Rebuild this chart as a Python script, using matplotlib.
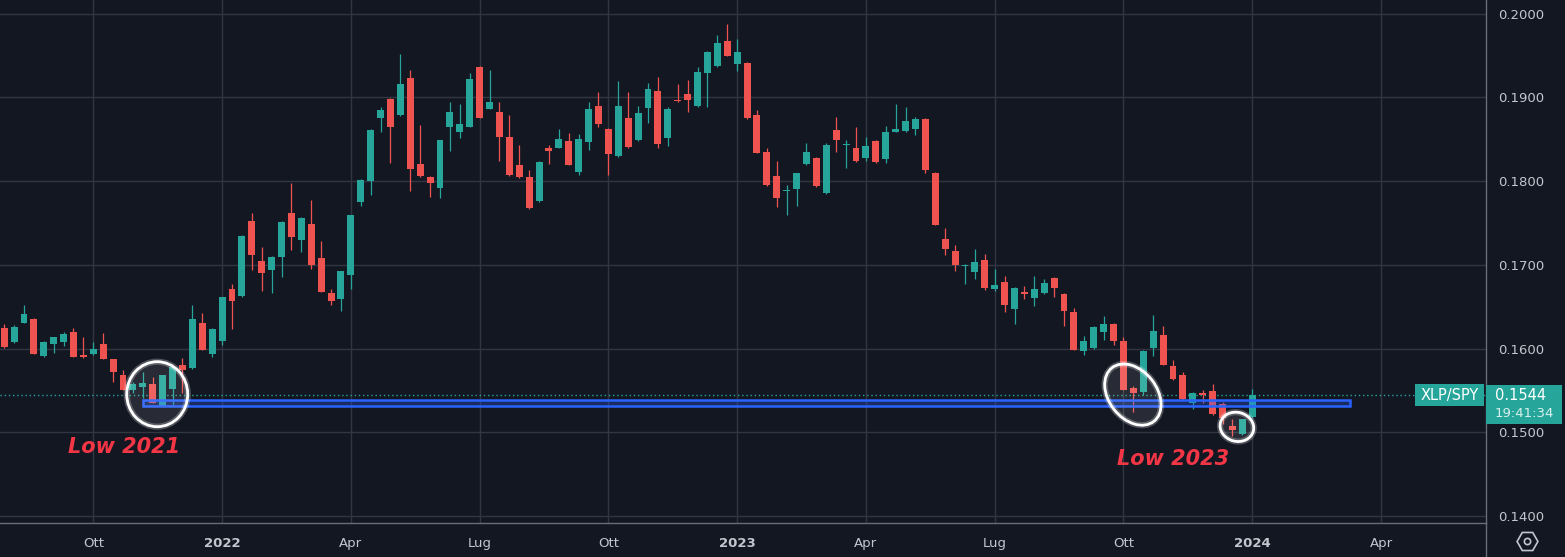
import matplotlib
matplotlib.use("Agg")
import matplotlib.pyplot as plt
from matplotlib.patches import Rectangle, Ellipse
from matplotlib.lines import Line2D
from matplotlib.transforms import IdentityTransform, blended_transform_factory
import numpy as np
import pandas as pd

# XLP/SPY settimanale
opens = [0.1624, 0.1608, 0.1631, 0.1635, 0.1591, 0.1606, 0.1608, 0.1620, 0.1592, 0.1593,
         0.1606, 0.1588, 0.1568, 0.1551, 0.1554, 0.1558, 0.1531, 0.1552, 0.1580, 0.1577,
         0.1631, 0.1594, 0.1609, 0.1671, 0.1663, 0.1752, 0.1705, 0.1694, 0.1709, 0.1762,
         0.1730, 0.1749, 0.1708, 0.1666, 0.1659, 0.1688, 0.1775, 0.1800, 0.1875, 0.1898,
         0.1879, 0.1923, 0.1820, 0.1805, 0.1792, 0.1865, 0.1859, 0.1865, 0.1936, 0.1886,
         0.1883, 0.1853, 0.1819, 0.1805, 0.1776, 0.1840, 0.1840, 0.1848, 0.1811, 0.1847,
         0.1890, 0.1862, 0.1830, 0.1875, 0.1849, 0.1887, 0.1908, 0.1851, 0.1897, 0.1904,
         0.1890, 0.1929, 0.1937, 0.1967, 0.1940, 0.1941, 0.1879, 0.1835, 0.1806, 0.1788,
         0.1790, 0.1820, 0.1828, 0.1786, 0.1861, 0.1843, 0.1840, 0.1828, 0.1848, 0.1826,
         0.1859, 0.1860, 0.1862, 0.1874, 0.1810, 0.1731, 0.1717, 0.1699, 0.1691, 0.1706,
         0.1671, 0.1680, 0.1647, 0.1668, 0.1660, 0.1666, 0.1684, 0.1665, 0.1644, 0.1597,
         0.1601, 0.1620, 0.1629, 0.1609, 0.1553, 0.1548, 0.1601, 0.1616, 0.1579, 0.1568,
         0.1535, 0.1547, 0.1549, 0.1534, 0.1508, 0.1498, 0.1518]
highs = [0.1629, 0.1628, 0.1652, 0.1636, 0.1609, 0.1614, 0.1620, 0.1624, 0.1614, 0.1608,
         0.1619, 0.1588, 0.1574, 0.1560, 0.1572, 0.1566, 0.1569, 0.1578, 0.1589, 0.1652,
         0.1643, 0.1624, 0.1662, 0.1677, 0.1735, 0.1762, 0.1721, 0.1710, 0.1752, 0.1798,
         0.1757, 0.1777, 0.1728, 0.1671, 0.1693, 0.1760, 0.1802, 0.1862, 0.1888, 0.1899,
         0.1952, 0.1933, 0.1867, 0.1806, 0.1849, 0.1894, 0.1892, 0.1929, 0.1937, 0.1933,
         0.1894, 0.1879, 0.1843, 0.1813, 0.1824, 0.1843, 0.1862, 0.1857, 0.1856, 0.1894,
         0.1906, 0.1863, 0.1920, 0.1906, 0.1890, 0.1917, 0.1924, 0.1888, 0.1916, 0.1921,
         0.1936, 0.1955, 0.1974, 0.1988, 0.1970, 0.1942, 0.1885, 0.1840, 0.1824, 0.1795,
         0.1810, 0.1846, 0.1829, 0.1845, 0.1877, 0.1849, 0.1865, 0.1853, 0.1849, 0.1866,
         0.1892, 0.1888, 0.1877, 0.1875, 0.1811, 0.1744, 0.1724, 0.1701, 0.1719, 0.1713,
         0.1695, 0.1687, 0.1673, 0.1675, 0.1687, 0.1683, 0.1685, 0.1666, 0.1649, 0.1615,
         0.1627, 0.1639, 0.1630, 0.1614, 0.1555, 0.1598, 0.1640, 0.1627, 0.1586, 0.1572,
         0.1548, 0.1551, 0.1558, 0.1536, 0.1516, 0.1516, 0.1552]
lows = [0.1601, 0.1607, 0.1630, 0.1593, 0.1590, 0.1595, 0.1603, 0.1590, 0.1589, 0.1592,
        0.1588, 0.1560, 0.1550, 0.1547, 0.1541, 0.1535, 0.1530, 0.1533, 0.1547, 0.1576,
        0.1598, 0.1590, 0.1604, 0.1623, 0.1661, 0.1694, 0.1669, 0.1666, 0.1685, 0.1718,
        0.1715, 0.1695, 0.1667, 0.1652, 0.1645, 0.1671, 0.1770, 0.1783, 0.1859, 0.1822,
        0.1878, 0.1788, 0.1805, 0.1781, 0.1780, 0.1836, 0.1851, 0.1864, 0.1875, 0.1886,
        0.1824, 0.1806, 0.1804, 0.1767, 0.1775, 0.1820, 0.1839, 0.1819, 0.1807, 0.1837,
        0.1865, 0.1807, 0.1829, 0.1840, 0.1848, 0.1869, 0.1840, 0.1842, 0.1894, 0.1883,
        0.1889, 0.1888, 0.1936, 0.1949, 0.1931, 0.1874, 0.1833, 0.1794, 0.1769, 0.1760,
        0.1770, 0.1819, 0.1793, 0.1785, 0.1835, 0.1816, 0.1823, 0.1824, 0.1822, 0.1821,
        0.1858, 0.1859, 0.1855, 0.1810, 0.1747, 0.1712, 0.1693, 0.1677, 0.1683, 0.1670,
        0.1669, 0.1644, 0.1629, 0.1659, 0.1651, 0.1665, 0.1662, 0.1627, 0.1598, 0.1592,
        0.1600, 0.1610, 0.1604, 0.1550, 0.1524, 0.1545, 0.1591, 0.1580, 0.1563, 0.1539,
        0.1528, 0.1535, 0.1521, 0.1510, 0.1496, 0.1497, 0.1517]
closes = [0.1602, 0.1626, 0.1641, 0.1594, 0.1608, 0.1614, 0.1617, 0.1590, 0.1590, 0.1600,
          0.1588, 0.1572, 0.1551, 0.1558, 0.1559, 0.1535, 0.1568, 0.1578, 0.1574, 0.1635,
          0.1598, 0.1623, 0.1662, 0.1657, 0.1734, 0.1712, 0.1690, 0.1709, 0.1751, 0.1733,
          0.1756, 0.1700, 0.1668, 0.1657, 0.1693, 0.1760, 0.1801, 0.1861, 0.1885, 0.1865,
          0.1916, 0.1814, 0.1806, 0.1798, 0.1849, 0.1883, 0.1868, 0.1922, 0.1875, 0.1894,
          0.1853, 0.1807, 0.1805, 0.1768, 0.1823, 0.1836, 0.1850, 0.1819, 0.1850, 0.1886,
          0.1868, 0.1832, 0.1890, 0.1841, 0.1881, 0.1910, 0.1844, 0.1886, 0.1896, 0.1897,
          0.1930, 0.1954, 0.1965, 0.1949, 0.1954, 0.1875, 0.1834, 0.1795, 0.1780, 0.1789,
          0.1810, 0.1835, 0.1794, 0.1843, 0.1849, 0.1844, 0.1824, 0.1842, 0.1823, 0.1859,
          0.1862, 0.1872, 0.1874, 0.1813, 0.1748, 0.1719, 0.1700, 0.1700, 0.1703, 0.1672,
          0.1676, 0.1652, 0.1672, 0.1665, 0.1671, 0.1678, 0.1672, 0.1645, 0.1598, 0.1609,
          0.1626, 0.1629, 0.1609, 0.1551, 0.1547, 0.1597, 0.1621, 0.1580, 0.1564, 0.1540,
          0.1547, 0.1545, 0.1522, 0.1517, 0.1503, 0.1516, 0.1544]

first_week = "2021-08-02"
month_names = {4: "Apr", 7: "Lug", 10: "Ott"}
y_ticks = [0.14, 0.15, 0.16, 0.17, 0.18, 0.19, 0.20]

# zona di supporto e note
zone_low, zone_high = 0.1531, 0.1539
zone_start, zone_end = 14.0, 135.9
symbol = "XLP/SPY"
countdown = "19:41:34"

BG = "#131722"
GRID = "#323642"
UP = "#26a69a"
DOWN = "#ef5350"
TXT = "#c3c6ce"

n = len(closes)
x = np.arange(n)
o = np.array(opens)
c = np.array(closes)
cols = [UP if cc >= oo else DOWN for oo, cc in zip(o, c)]

fig = plt.figure(figsize=(15.65, 5.57), dpi=100, facecolor=BG)
ax = fig.add_axes([0, 34 / 557, 1486 / 1565, 523 / 557], facecolor=BG)

ax.vlines(x, lows, highs, colors=cols, lw=0.9, zorder=3)
ax.bar(x, np.maximum(np.abs(c - o), 0.00012), bottom=np.minimum(o, c),
       width=0.7, color=cols, lw=0, zorder=4)

ax.set_xlim(-0.42, 149.6)
ax.set_ylim(0.13917, 0.20162)

# tick asse tempo: primo bar di ogni trimestre
weeks = pd.date_range(first_week, periods=160, freq="W-MON")
tpos, tlab, tbold = [], [], []
for i, d in enumerate(weeks):
    if d.month in (1, 4, 7, 10) and i > 0 and weeks[i - 1].month != d.month:
        if i > 149:
            break
        tpos.append(i)
        tlab.append(str(d.year) if d.month == 1 else month_names[d.month])
        tbold.append(d.month == 1)
ax.set_xticks(tpos)
ax.set_xticklabels(tlab)
for t, b in zip(ax.get_xticklabels(), tbold):
    if b:
        t.set_fontweight("bold")
        t.set_color("#e0e3eb")

ax.yaxis.tick_right()
ax.set_yticks(y_ticks)
ax.set_yticklabels([f"{v:.4f}" for v in y_ticks])
ax.tick_params(axis="both", length=0, colors=TXT, labelsize=9.5)
ax.tick_params(axis="y", pad=9)
ax.tick_params(axis="x", pad=10)
ax.grid(True, color=GRID, lw=1)
ax.set_axisbelow(True)
for s in ["top", "left"]:
    ax.spines[s].set_visible(False)
for s in ["bottom", "right"]:
    ax.spines[s].set_color("#6a6d78")
    ax.spines[s].set_linewidth(1)

last = closes[-1]
ax.axhline(last, color=UP, lw=1, ls=(0, (1, 2)), zorder=2)

ax.add_patch(Rectangle((zone_start, zone_low), zone_end - zone_start, zone_high - zone_low,
                       fc="#2962ff", alpha=0.28, lw=0, zorder=5))
ax.add_patch(Rectangle((zone_start, zone_low), zone_end - zone_start, zone_high - zone_low,
                       fc="none", ec="#2962ff", lw=1.8, zorder=5))


def ring(xc, yc, w, h, ang):
    cx, cy = ax.transData.transform((xc, yc))
    fig.add_artist(Ellipse((cx, cy), w, h, angle=ang, transform=IdentityTransform(),
                           fc="white", alpha=0.09, lw=0, zorder=6))
    fig.add_artist(Ellipse((cx, cy), w, h, angle=ang, transform=IdentityTransform(),
                           fill=False, ec="white", alpha=0.25, lw=4.5, zorder=6))
    fig.add_artist(Ellipse((cx, cy), w, h, angle=ang, transform=IdentityTransform(),
                           fill=False, ec="white", lw=2, zorder=7))


ring(15.45, 0.15455, 61, 65, 0)
ring(113.95, 0.1545, 68, 48, -52)
ring(124.45, 0.15065, 34, 29, -15)

ax.text(6.4, 0.1482, "Low 2021", color="#f23645", fontsize=15, fontstyle="italic",
        fontweight="bold", va="center", ha="left", zorder=8)
ax.text(112.3, 0.1468, "Low 2023", color="#f23645", fontsize=15, fontstyle="italic",
        fontweight="bold", va="center", ha="left", zorder=8)

# etichette prezzo sull'asse destro
bt = blended_transform_factory(ax.transAxes, ax.transData)
px = 1 / 8375
ax.add_patch(Rectangle((1.0, last - 28.5 * px), 76 / 1486, 39 * px, transform=bt,
                       fc=UP, lw=0, clip_on=False, zorder=9))
ax.add_patch(Rectangle((1415 / 1486, last - 11 * px), 69 / 1486, 22 * px, transform=bt,
                       fc=UP, lw=0, clip_on=False, zorder=9))
ax.text(1449.5 / 1486, last, symbol, transform=bt, color="white", fontsize=10.5,
        ha="center", va="center", zorder=10)
ax.text(1495 / 1486, last, f"{last:.4f}", transform=bt, color="white", fontsize=10.5,
        ha="left", va="center", zorder=10, clip_on=False)
ax.text(1495 / 1486, last - 18 * px, countdown, transform=bt, color="#d8f0ed",
        fontsize=9.5, ha="left", va="center", zorder=10, clip_on=False)

# angolo in basso a destra
fig.add_artist(Line2D([1486 / 1565, 1486 / 1565], [0, 34 / 557], color="#6a6d78", lw=1,
                      transform=fig.transFigure))
fig.add_artist(Line2D([1527 / 1565], [16 / 557], marker="H", ms=15, mfc="none",
                      mec=TXT, mew=1.2, transform=fig.transFigure))
fig.add_artist(Line2D([1527 / 1565], [16 / 557], marker="o", ms=4.5, mfc="none",
                      mec=TXT, mew=1.2, transform=fig.transFigure))

fig.savefig("out.png", dpi=100, facecolor=BG)
